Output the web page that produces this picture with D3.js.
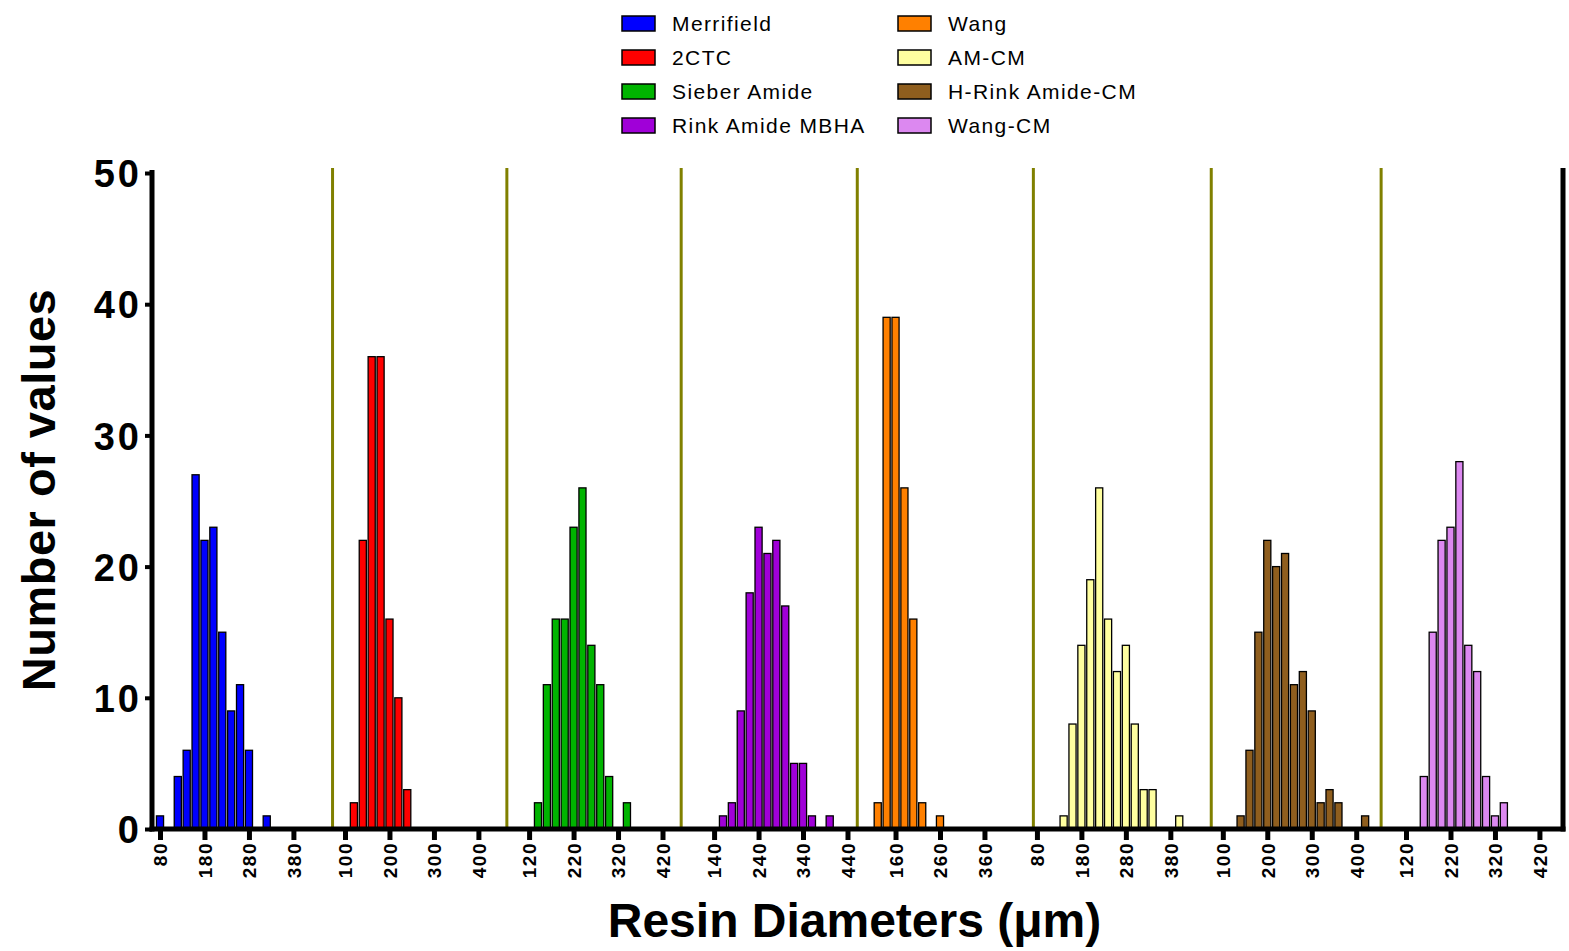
<!DOCTYPE html>
<html>
<head>
<meta charset="utf-8">
<title>Resin diameters</title>
<script src="https://d3js.org/d3.v7.min.js"></script>
<style>
  body { margin: 0; background: #fff; }
  text { font-family: Arial, "Liberation Sans", sans-serif; }
</style>
</head>
<body>
<div id="chart"></div>
<script>
// resins, one histogram per axis segment
const resins = ['Merrifield', '2CTC', 'Sieber Amide', 'Rink Amide MBHA',
                'Wang', 'AM-CM', 'H-Rink Amide-CM', 'Wang-CM']
const colors = ['#0000ff', '#ff0000', '#00b400', '#a000d8',
                '#ff8000', '#ffffa0', '#8f5e1e', '#dc88f0']

// bin centres (um) and number of values
const merrifieldBins = [80, 120, 140, 160, 180, 200, 220, 240, 260, 280, 320]
const merrifieldCounts = [1, 4, 6, 27, 22, 23, 15, 9, 11, 6, 1]
const ctcBins = [120, 140, 160, 180, 200, 220, 240]
const ctcCounts = [2, 22, 36, 36, 16, 10, 3]
const sieberBins = [140, 160, 180, 200, 220, 240, 260, 280, 300, 340]
const sieberCounts = [2, 11, 16, 16, 23, 26, 14, 11, 4, 2]
const rinkBins = [160, 180, 200, 220, 240, 260, 280, 300, 320, 340, 360, 400]
const rinkCounts = [1, 2, 9, 18, 23, 21, 22, 17, 5, 5, 1, 1]
const wangBins = [120, 140, 160, 180, 200, 220, 260]
const wangCounts = [2, 39, 39, 26, 16, 2, 1]
const amcmBins = [140, 160, 180, 200, 220, 240, 260, 280, 300, 320, 340, 400]
const amcmCounts = [1, 8, 14, 19, 26, 16, 12, 14, 8, 3, 3, 1]
const hrinkBins = [140, 160, 180, 200, 220, 240, 260, 280, 300, 320, 340, 360, 420]
const hrinkCounts = [1, 6, 15, 22, 20, 21, 11, 12, 9, 2, 3, 2, 1]
const wangcmBins = [160, 180, 200, 220, 240, 260, 280, 300, 320, 340]
const wangcmCounts = [4, 15, 22, 23, 28, 14, 12, 4, 1, 2]

const allBins = [merrifieldBins, ctcBins, sieberBins, rinkBins, wangBins, amcmBins, hrinkBins, wangcmBins]
const allCounts = [merrifieldCounts, ctcCounts, sieberCounts, rinkCounts, wangCounts, amcmCounts, hrinkCounts, wangcmCounts]

// x range of every segment and its tick labels
const segLo = [62, 72, 70, 66, 74, 72, 74, 64]
const segHi = [468, 464, 462, 462, 470, 472, 456, 473]
const segTicks = [
    [80, 180, 280, 380], [100, 200, 300, 400], [120, 220, 320, 420], [140, 240, 340, 440],
    [160, 260, 360], [80, 180, 280, 380], [100, 200, 300, 400], [120, 220, 320, 420]
]
const yTicks = [0, 10, 20, 30, 40, 50]
const binWidth = 20

const w = 1569, h = 951
const plotLeft = 152, plotRight = 1563, plotTop = 173, plotBottom = 829

const svg = d3.select('#chart')
    .append('svg')
    .attr('width', w)
    .attr('height', h)

const y = d3.scaleLinear().domain([0, 50]).range([plotBottom, plotTop])

// the segments share one length scale, each gets its own x scale
const widths = segLo.map((lo, i) => segHi[i] - lo)
const offsets = Array.from(d3.cumsum([0].concat(widths)))
const strip = d3.scaleLinear().domain([0, offsets[offsets.length - 1]]).range([plotLeft, plotRight])
const xScales = segLo.map((lo, i) =>
    d3.scaleLinear().domain([lo, segHi[i]]).range([strip(offsets[i]), strip(offsets[i + 1])]))

// segment separators
svg.selectAll('line.sep')
    .data(d3.range(1, 8))
    .enter()
    .append('line')
    .attr('class', 'sep')
    .attr('x1', (d) => strip(offsets[d]))
    .attr('x2', (d) => strip(offsets[d]))
    .attr('y1', y(50) - 5)
    .attr('y2', y(0))
    .attr('stroke', '#808000')
    .attr('stroke-width', 3)

// bars
resins.forEach((name, i) => {
    const xs = xScales[i]
    const data = allBins[i].map((b, j) => ({ bin: b, count: allCounts[i][j] }))
    svg.append('g')
        .selectAll('rect')
        .data(data)
        .enter()
        .append('rect')
        .attr('x', (d) => xs(d.bin - binWidth * 0.4))
        .attr('width', (d) => xs(d.bin + binWidth * 0.4) - xs(d.bin - binWidth * 0.4))
        .attr('y', (d) => y(d.count))
        .attr('height', (d) => y(0) - y(d.count))
        .attr('fill', colors[i])
        .attr('stroke', '#000')
        .attr('stroke-width', 1.3)
        .append('title')
        .text((d) => name + ' ' + d.bin + ': ' + d.count)
})

// x axis, one per segment
resins.forEach((name, i) => {
    const g = svg.append('g')
        .attr('transform', 'translate(0,' + plotBottom + ')')
        .call(d3.axisBottom(xScales[i]).tickValues(segTicks[i]).tickSize(11).tickFormat(d3.format('d')))
    g.select('.domain').remove()
    g.selectAll('.tick line').attr('stroke', '#000').attr('stroke-width', 5)
    g.selectAll('.tick text')
        .attr('transform', 'rotate(-90)')
        .attr('x', -13)
        .attr('y', 0)
        .attr('dy', '0.36em')
        .attr('text-anchor', 'end')
        .attr('fill', '#000')
        .style('font-size', '19px')
        .style('font-weight', 'bold')
        .style('letter-spacing', '1.5px')
})

// y axis
const gy = svg.append('g')
    .attr('transform', 'translate(' + plotLeft + ',0)')
    .call(d3.axisLeft(y).tickValues(yTicks).tickSize(7))
gy.select('.domain').remove()
gy.selectAll('.tick line').attr('stroke', '#000').attr('stroke-width', 4)
gy.selectAll('.tick text')
    .attr('x', -10)
    .attr('dy', '0.36em')
    .attr('fill', '#000')
    .style('font-size', '38px')
    .style('font-weight', 'bold')
    .style('letter-spacing', '3px')

// frame lines
svg.append('line')
    .attr('x1', plotLeft).attr('x2', plotLeft)
    .attr('y1', y(50) - 3).attr('y2', y(0) + 2.5)
    .attr('stroke', '#000').attr('stroke-width', 5)
svg.append('line')
    .attr('x1', plotLeft - 2.5).attr('x2', plotRight + 2.5)
    .attr('y1', y(0)).attr('y2', y(0))
    .attr('stroke', '#000').attr('stroke-width', 5)
svg.append('line')
    .attr('x1', plotRight).attr('x2', plotRight)
    .attr('y1', y(50) - 5).attr('y2', y(0) + 2.5)
    .attr('stroke', '#000').attr('stroke-width', 5)

// axis titles
svg.append('text')
    .attr('transform', 'translate(55,490) rotate(-90)')
    .attr('text-anchor', 'middle')
    .style('font-size', '47px')
    .style('font-weight', 'bold')
    .style('letter-spacing', '0.5px')
    .text('Number of values')

svg.append('text')
    .attr('x', (plotLeft + plotRight) / 2 - 3)
    .attr('y', 937)
    .attr('text-anchor', 'middle')
    .style('font-size', '48px')
    .style('font-weight', 'bold')
    .text('Resin Diameters (\u03bcm)')

// legend, two columns of four
const legend = svg.append('g')
    .selectAll('g')
    .data(resins)
    .enter()
    .append('g')
    .attr('transform', (d, i) => 'translate(' + (i < 4 ? 622 : 898) + ',' + (23 + (i % 4) * 34) + ')')

legend.append('rect')
    .attr('x', 0)
    .attr('y', -7)
    .attr('width', 33)
    .attr('height', 15)
    .attr('fill', (d, i) => colors[i])
    .attr('stroke', '#000')
    .attr('stroke-width', 1.5)

legend.append('text')
    .attr('x', 50)
    .attr('dy', '0.36em')
    .style('font-size', '21px')
    .style('letter-spacing', '1.4px')
    .text((d) => d)
</script>
</body>
</html>
